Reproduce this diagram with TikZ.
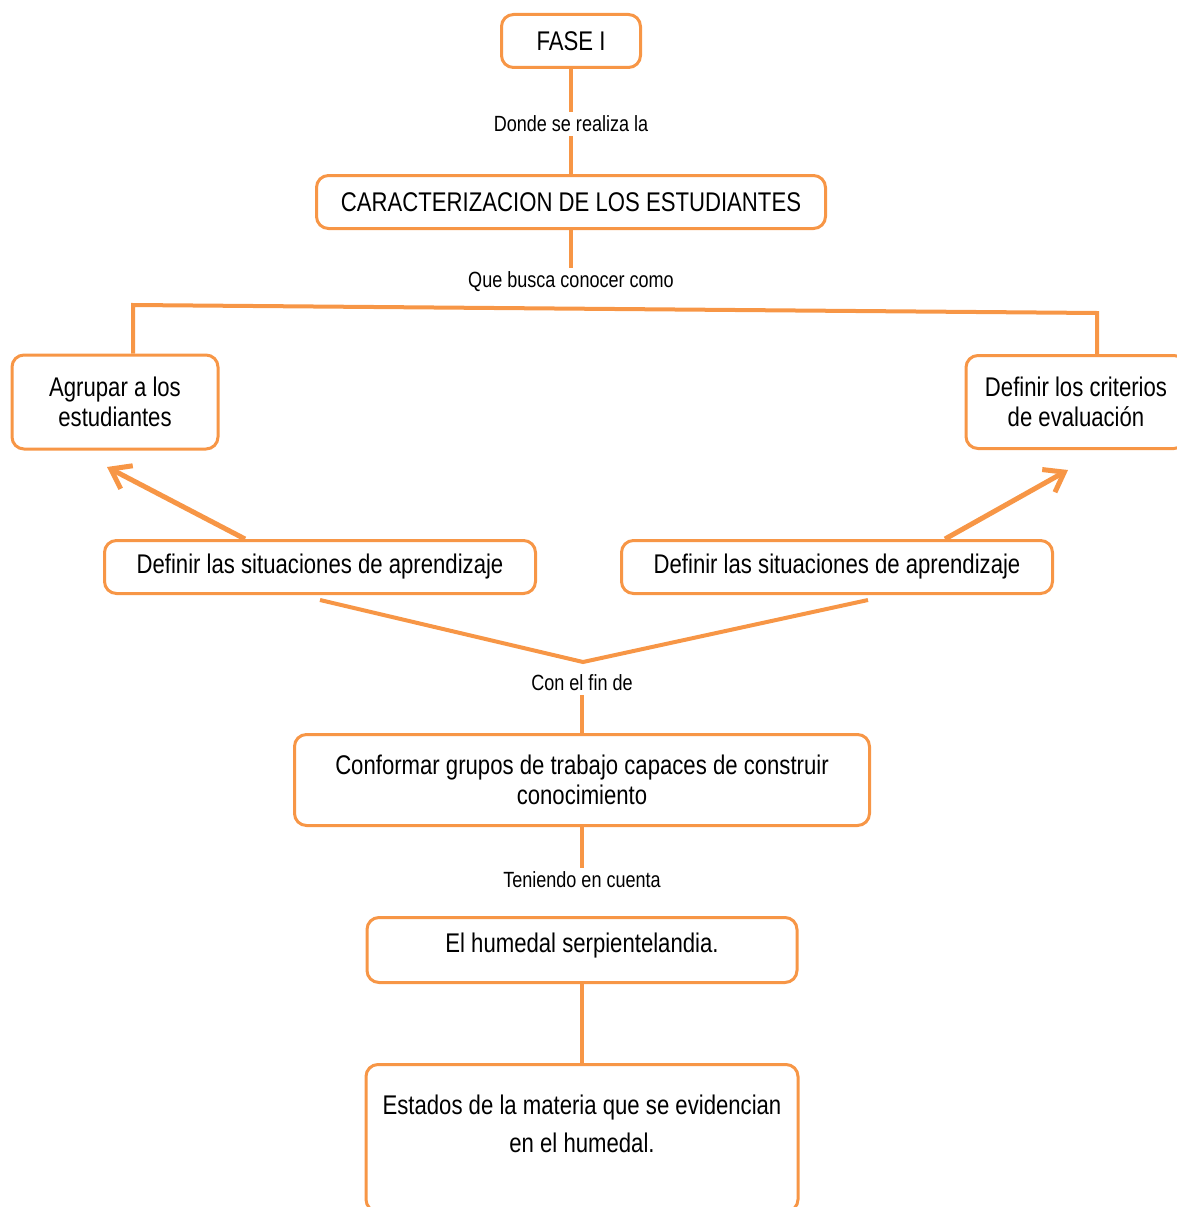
\documentclass[tikz,border=0pt]{standalone}
\usepackage{fontspec}
\setmainfont{Liberation Sans}[FakeStretch=0.82]
\usetikzlibrary{arrows.meta}
\definecolor{naranja}{RGB}{247,150,70}

\begin{document}
\begin{tikzpicture}[x=1pt,y=-1pt,
	caja/.style={draw=naranja, line width=3pt, rounded corners=12pt, fill=white, align=center, inner sep=0pt, font=\fontsize{27}{30}\selectfont},
	etiq/.style={inner sep=4pt, font=\fontsize{22}{24}\selectfont},
	linea/.style={draw=naranja, line width=4pt},
	flecha/.style={linea, line width=5pt, -{Straight Barb[length=18pt,width=26pt]}}]
	\useasboundingbox (0,0) rectangle (1176,1207);

	\node[caja, minimum width=139pt, minimum height=53pt](FASE) at (571,41){FASE I};
	\node[etiq, below of=FASE, node distance=83pt](L1){Donde se realiza la};
	\node[caja, below of=L1, node distance=78pt, minimum width=509pt, minimum height=53pt](CAR){CARACTERIZACION DE LOS ESTUDIANTES};
	\node[etiq, below of=CAR, node distance=80pt](L2){Que busca conocer como};

	\node[caja, minimum width=206pt, minimum height=94pt](AGR) at (115,402){Agrupar a los\\estudiantes};
	\node[caja, right of=AGR, node distance=961pt, minimum width=220pt, minimum height=93pt](CRIT){Definir los criterios\\de evaluación};

	\node[caja, minimum width=431pt, minimum height=53pt](SIT1) at (320,567){Definir las situaciones de aprendizaje};
	\node[caja, right of=SIT1, node distance=517pt, minimum width=431pt, minimum height=53pt](SIT2){Definir las situaciones de aprendizaje};

	\node[etiq](L3) at (582,683){Con el fin de};
	\node[caja, below of=L3, node distance=97pt, minimum width=575pt, minimum height=91pt](CONF){Conformar grupos de trabajo capaces de construir\\conocimiento};
	\node[etiq, below of=CONF, node distance=100pt](L4){Teniendo en cuenta};
	\node[caja, below of=CONF, node distance=170pt, minimum width=430pt, minimum height=65pt, text depth=14pt](HUM){El humedal serpientelandia.};
	\node[caja, below of=HUM, node distance=188pt, minimum width=432pt, minimum height=147pt, text depth=28pt, font=\fontsize{27}{38}\selectfont](EST){Estados de la materia que se evidencian\\en el humedal.};

	\coordinate (BL) at (133,305);
	\coordinate (BR) at (1097,313);
	\coordinate (P1) at (107,467);
	\coordinate (P2) at (1068,470);
	\coordinate (V) at (583,662);

	\draw[linea] (FASE) -- (L1);
	\draw[linea] (L1) -- (CAR);
	\draw[linea] (CAR) -- (L2);
	\draw[linea] (AGR.north -| BL) -- (BL) -- (BR) -- (CRIT.north -| BR);

	\draw[flecha] ([xshift=-75pt]SIT1.north) -- (P1);
	\draw[flecha] ([xshift=108pt]SIT2.north) -- (P2);
	\draw[linea] ([yshift=-5pt]SIT1.south) -- (V) -- ([xshift=31pt, yshift=-5pt]SIT2.south);

	\draw[linea] (L3) -- (CONF);
	\draw[linea] (CONF) -- (L4);
	\draw[linea] (HUM) -- (EST);
\end{tikzpicture}
\end{document}
